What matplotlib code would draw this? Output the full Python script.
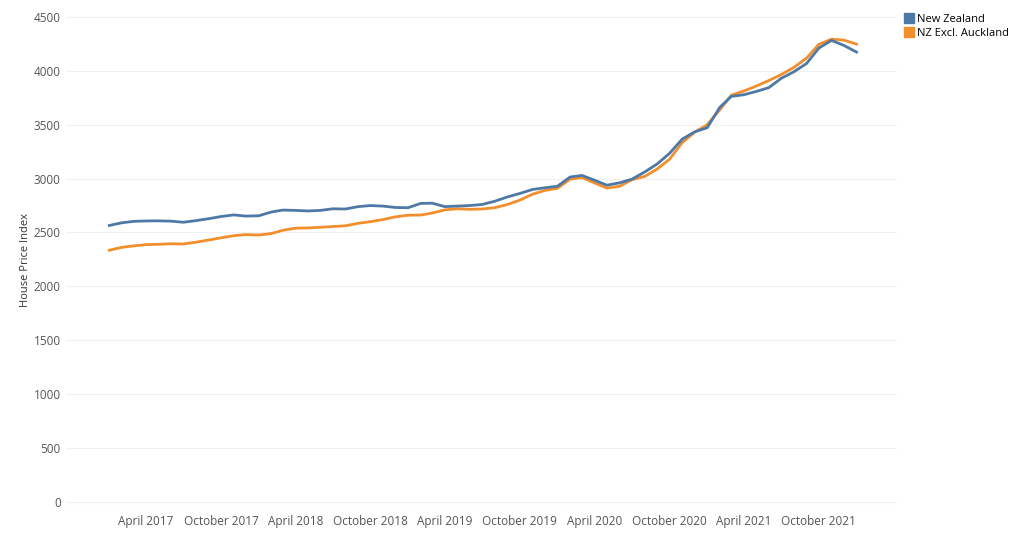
import pandas as pd
import matplotlib.pyplot as plt
from matplotlib.lines import Line2D

plt.rcParams['font.family'] = ['Open Sans', 'DejaVu Sans']

# Monthly index, Jan 2017 - Jan 2022
months = pd.date_range('2017-01-01', '2022-01-01', freq='MS')
nz = [2565, 2590, 2603, 2607, 2608, 2605, 2595, 2610, 2628, 2648, 2663, 2652,
      2655, 2690, 2708, 2705, 2700, 2705, 2720, 2718, 2740, 2750, 2745, 2732,
      2730, 2770, 2772, 2740, 2745, 2750, 2760, 2790, 2830, 2862, 2899, 2915,
      2929, 3015, 3030, 2985, 2939, 2961, 2995, 3061, 3137, 3235, 3367, 3434,
      3473, 3663, 3764, 3780, 3810, 3846, 3932, 3993, 4070, 4213, 4284, 4238,
      4176]
nz_ex_akl = [2335, 2362, 2375, 2387, 2390, 2395, 2393, 2410, 2430, 2450, 2470, 2480,
             2476, 2490, 2520, 2540, 2542, 2548, 2555, 2562, 2585, 2600, 2620, 2645,
             2660, 2662, 2680, 2710, 2720, 2715, 2718, 2730, 2760, 2800, 2855, 2890,
             2910, 2995, 3010, 2960, 2912, 2929, 2990, 3020, 3090, 3180, 3335, 3430,
             3500, 3640, 3775, 3815, 3860, 3912, 3967, 4034, 4120, 4248, 4296, 4287,
             4250]
tick_dates = pd.to_datetime(['2017-04-01', '2017-10-01', '2018-04-01', '2018-10-01',
                             '2019-04-01', '2019-10-01', '2020-04-01', '2020-10-01',
                             '2021-04-01', '2021-10-01'])

blue, orange = '#4e79a7', '#f28e2b'
fig = plt.figure(figsize=(10.24, 5.37), dpi=100)
ax = fig.add_axes([0.064, 0.05, 0.812, 0.93])
ax.plot(months, nz_ex_akl, color=orange, lw=2)
ax.plot(months, nz, color=blue, lw=2)

ax.set_ylim(-80, 4560)
ax.set_xlim(months[0] - pd.Timedelta(days=107), months[0] + pd.Timedelta(days=1925))
ax.set_yticks(range(0, 4501, 500))
ax.set_xticks(tick_dates)
ax.set_xticklabels([d.strftime('%B %Y') for d in tick_dates])
ax.tick_params(length=0, labelsize=8.5, colors='#555555')
ax.grid(axis='y', color='#f0f0f0', lw=0.8)
for s in ax.spines.values():
    s.set_visible(False)
ax.axhline(-80, color='#dddddd', lw=0.8)
ax.set_ylabel('House Price Index', fontsize=8, color='#333333', labelpad=0)
ax.yaxis.set_label_coords(-0.042, 0.5)

handles = [Line2D([], [], marker='s', ls='', color=blue, markersize=7),
           Line2D([], [], marker='s', ls='', color=orange, markersize=7)]
fig.legend(handles, ['New Zealand', 'NZ Excl. Auckland'], loc='upper left',
           bbox_to_anchor=(0.877, 0.985), frameon=False, fontsize=8,
           handletextpad=0.2, labelspacing=0.3, borderpad=0, handlelength=1)
fig.savefig('out.png')
